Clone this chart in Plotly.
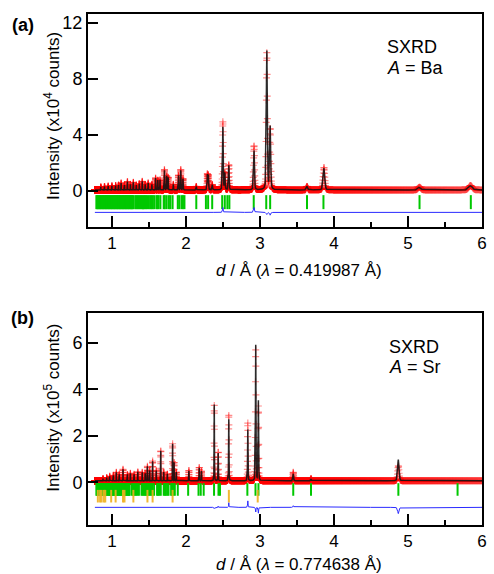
import numpy as np
import plotly.graph_objects as go

# ---------------- Panel (a): A = Ba, lambda = 0.419987 A (units x10^4 counts)
lam_a = 0.419987
peaks_a_d = [0.85, 0.90, 0.95, 1.00, 1.05, 1.09, 1.125, 1.17, 1.21, 1.25, 1.29, 1.33, 1.37, 1.41,
             1.45, 1.49, 1.54, 1.59, 1.62, 1.65, 1.71, 1.74, 1.76, 1.83, 1.90, 1.93, 1.96, 2.14,
             2.29, 2.303, 2.356, 2.499, 2.525, 2.579, 2.92, 3.093, 3.138, 3.636, 3.865, 5.155, 5.845]
peaks_a_calc = [0.22, 0.25, 0.28, 0.3, 0.32, 0.35, 0.5, 0.35, 0.6, 0.4, 0.55, 0.35, 0.45, 0.62,
                0.4, 0.5, 0.4, 0.85, 0.7, 0.72, 1.4, 1.0, 0.9, 0.4, 1.05, 1.4, 0.8, 0.25,
                1.1, 1.05, 0.38, 4.5, 1.2, 1.75, 2.8, 9.9, 4.5, 0.25, 1.55, 0.2, 0.3]
peaks_a_obs = [0.22, 0.25, 0.28, 0.3, 0.32, 0.35, 0.5, 0.35, 0.6, 0.4, 0.55, 0.35, 0.45, 0.62,
               0.4, 0.5, 0.4, 0.85, 0.7, 0.72, 1.45, 1.0, 0.9, 0.4, 1.05, 1.45, 0.8, 0.25,
               1.12, 1.05, 0.38, 4.85, 1.2, 1.8, 3.15, 9.75, 4.3, 0.25, 1.6, 0.2, 0.32]
bg_a = 0.08
diff_off_a = -1.52
tick_y_a = -0.79
refl_a = [0.79, 0.80, 0.81, 0.82, 0.83, 0.84, 0.85, 0.86, 0.87, 0.88, 0.89, 0.90, 0.91, 0.92,
          0.93, 0.94, 0.95, 0.96, 0.97, 0.98, 0.99, 1.00, 1.01, 1.02, 1.03, 1.04, 1.05, 1.06,
          1.07, 1.08, 1.09, 1.10, 1.11, 1.12, 1.13, 1.14, 1.15, 1.16, 1.17, 1.18, 1.19, 1.20,
          1.21, 1.22, 1.23, 1.24, 1.25, 1.26, 1.27, 1.28, 1.29, 1.315, 1.33, 1.345, 1.36, 1.375,
          1.39, 1.405, 1.42, 1.435, 1.45, 1.465, 1.48, 1.50, 1.52, 1.535, 1.55, 1.57, 1.60, 1.615,
          1.63, 1.655, 1.70, 1.715, 1.74, 1.77, 1.79, 1.82, 1.89, 1.91, 1.94, 1.96, 1.98, 2.14,
          2.27, 2.30, 2.355, 2.49, 2.525, 2.56, 2.587, 2.916, 3.085, 3.138, 3.636, 3.858, 5.156, 5.849]

# ---------------- Panel (b): A = Sr, lambda = 0.774638 A (units x10^5 counts)
lam_b = 0.774638
peaks_b_d = [0.88, 0.93, 0.97, 1.02, 1.06, 1.10, 1.15, 1.21, 1.25, 1.30, 1.35, 1.41, 1.45, 1.48,
             1.51, 1.55, 1.60, 1.66, 1.70, 1.75, 1.82, 1.84, 1.87, 2.04, 2.18, 2.21, 2.383, 2.436,
             2.579, 2.836, 2.943, 2.979, 3.45, 3.69, 4.87]
peaks_b_calc = [0.1, 0.14, 0.2, 0.24, 0.37, 0.28, 0.5, 0.28, 0.33, 0.28, 0.39, 0.37, 0.33, 0.63,
                0.45, 0.85, 0.45, 1.3, 0.38, 0.3, 1.6, 0.8, 0.38, 0.43, 0.56, 0.42, 3.3, 1.2,
                2.65, 2.22, 5.85, 3.45, 0.3, 0.08, 0.92]
peaks_b_obs = [0.1, 0.14, 0.2, 0.24, 0.37, 0.28, 0.5, 0.28, 0.33, 0.28, 0.39, 0.37, 0.33, 0.63,
               0.45, 0.85, 0.45, 1.3, 0.38, 0.3, 1.6, 0.8, 0.38, 0.45, 0.58, 0.42, 3.25, 1.25,
               2.85, 2.5, 5.65, 3.2, 0.37, 0.1, 0.65]
bg_b = 0.06
diff_off_b = -1.08
tick_y_b = -0.31
tick_y_b2 = -0.60
refl_b = [0.79, 0.80, 0.81, 0.82, 0.83, 0.84, 0.85, 0.86, 0.87, 0.88, 0.89, 0.90, 0.91, 0.92,
          0.93, 0.94, 0.95, 0.96, 0.97, 0.98, 0.99, 1.00, 1.01, 1.02, 1.03, 1.04, 1.05, 1.06,
          1.07, 1.08, 1.09, 1.10, 1.11, 1.12, 1.13, 1.14, 1.15, 1.16, 1.17, 1.18, 1.19, 1.20,
          1.21, 1.22, 1.23, 1.24, 1.27, 1.285, 1.30, 1.315, 1.33, 1.345, 1.365, 1.40, 1.415, 1.43,
          1.445, 1.46, 1.475, 1.49, 1.505, 1.52, 1.535, 1.55, 1.57, 1.61, 1.625, 1.64, 1.66, 1.70,
          1.715, 1.73, 1.75, 1.765, 1.80, 1.815, 1.83, 1.85, 1.89, 2.03, 2.17, 2.20, 2.24, 2.38,
          2.44, 2.46, 2.83, 2.94, 2.98, 3.45, 3.69, 4.87, 5.67]
refl_b2 = [0.81, 0.84, 0.86, 0.89, 0.91, 0.99, 1.05, 1.15, 1.17, 1.29, 1.48, 1.55, 1.82, 2.58, 2.97]

FWHM_THETA = 3.5e-4  # rad, instrumental width in theta


def profile(d, pos, heights, lam, bg):
    y = np.full_like(d, bg)
    for p, h in zip(pos, heights):
        w = 2.0 * p * p * FWHM_THETA / lam
        x = (d - p) / w
        g = np.exp(-4 * np.log(2) * x * x)
        lo = 1.0 / (1.0 + 4 * x * x)
        y += h * (0.65 * g + 0.35 * lo)
    return y


def d_grid(lam, tth_step):
    tth_lo = 2 * np.degrees(np.arcsin(lam / (2 * 6.0)))
    tth_hi = 2 * np.degrees(np.arcsin(lam / (2 * 0.77)))
    tth = np.arange(tth_lo, tth_hi, tth_step)
    return lam / (2 * np.sin(np.radians(tth / 2)))


# observed points (instrument step) and calculated curve (fine sampling)
d_a = d_grid(lam_a, 0.005)
d_a_fine = d_grid(lam_a, 0.002)
d_b = d_grid(lam_b, 0.007)
d_b_fine = d_grid(lam_b, 0.003)
obs_a = profile(d_a, peaks_a_d, peaks_a_obs, lam_a, bg_a)
calc_a_pts = profile(d_a, peaks_a_d, peaks_a_calc, lam_a, bg_a)
calc_a = profile(d_a_fine, peaks_a_d, peaks_a_calc, lam_a, bg_a)
obs_b = profile(d_b, peaks_b_d, peaks_b_obs, lam_b, bg_b)
calc_b_pts = profile(d_b, peaks_b_d, peaks_b_calc, lam_b, bg_b)
calc_b = profile(d_b_fine, peaks_b_d, peaks_b_calc, lam_b, bg_b)

FONT = "Liberation Sans, Arial, sans-serif"
RED = "rgba(255,0,0,0.45)"
GREEN = "#00c800"
ORANGE = "rgba(240,175,30,0.9)"
BLUE = "#2a2aff"

fig = go.Figure()


def add_panel(xa, ya, d, obs, dfine, calc, calc_pts, off, refl, ty, tsize, refl2=None, ty2=None):
    fig.add_trace(go.Scatter(x=d, y=obs, mode="markers", xaxis=xa, yaxis=ya,
                             marker=dict(symbol="cross-thin", size=5,
                                         line=dict(width=1.2, color=RED)),
                             showlegend=False, hoverinfo="skip"))
    fig.add_trace(go.Scatter(x=dfine, y=calc, mode="lines", xaxis=xa, yaxis=ya,
                             line=dict(color="rgba(20,20,20,0.9)", width=1.5),
                             showlegend=False, hoverinfo="skip"))
    fig.add_trace(go.Scatter(x=refl, y=[ty] * len(refl), mode="markers", xaxis=xa, yaxis=ya,
                             marker=dict(symbol="line-ns", size=tsize,
                                         line=dict(width=2, color=GREEN)),
                             showlegend=False, hoverinfo="skip"))
    if refl2 is not None:
        fig.add_trace(go.Scatter(x=refl2, y=[ty2] * len(refl2), mode="markers", xaxis=xa, yaxis=ya,
                                 marker=dict(symbol="line-ns", size=tsize,
                                             line=dict(width=2, color=ORANGE)),
                                 showlegend=False, hoverinfo="skip"))
    fig.add_trace(go.Scatter(x=d, y=obs - calc_pts + off, mode="lines", xaxis=xa, yaxis=ya,
                             line=dict(color=BLUE, width=1),
                             showlegend=False, hoverinfo="skip"))


add_panel("x", "y", d_a, obs_a, d_a_fine, calc_a, calc_a_pts, diff_off_a, refl_a, tick_y_a, 10)
add_panel("x2", "y2", d_b, obs_b, d_b_fine, calc_b, calc_b_pts, diff_off_b, refl_b, tick_y_b, 9,
          refl_b2, tick_y_b2)

xcommon = dict(range=[0.677, 6.0], showline=True, linecolor="black", linewidth=2, mirror=True,
               ticks="inside", ticklen=11, tickwidth=2, tickcolor="black",
               tickvals=[1, 2, 3, 4, 5, 6], showgrid=False, zeroline=False,
               tickfont=dict(family=FONT, size=17, color="black"),
               minor=dict(ticks="inside", ticklen=5, tickwidth=2, tickcolor="black",
                          tickvals=[1.5, 2.5, 3.5, 4.5, 5.5], showgrid=False))
ycommon = dict(showline=True, linecolor="black", linewidth=2, mirror=True,
               ticks="inside", ticklen=10, tickwidth=2, tickcolor="black",
               showgrid=False, zeroline=False,
               tickfont=dict(family=FONT, size=18, color="black"))

fig.update_layout(
    width=494, height=574,
    margin=dict(l=88, r=7, t=14, b=49),
    paper_bgcolor="white", plot_bgcolor="white",
    font=dict(family=FONT, size=17, color="black"),
    xaxis=dict(domain=[0, 1], anchor="y", **xcommon),
    yaxis=dict(domain=[0.583, 1], anchor="x", range=[-2.57, 12.64],
               tickvals=[0, 4, 8, 12], **ycommon),
    xaxis2=dict(domain=[0, 1], anchor="y2", **xcommon),
    yaxis2=dict(domain=[0, 0.415], anchor="x2", range=[-1.84, 7.29],
                tickvals=[0, 2, 4, 6], **ycommon),
)


def ann(text, x, y, size=17, xanchor="center", angle=0):
    fig.add_annotation(text=text, x=x, y=y, xref="paper", yref="paper", showarrow=False,
                       xanchor=xanchor, yanchor="middle", textangle=angle,
                       font=dict(family=FONT, size=size, color="black"))


ann("<b>(a)</b>", -0.165, 0.978, size=18)
ann("<b>(b)</b>", -0.165, 0.405, size=18)
ann("SXRD", 0.755, 0.935, size=18, xanchor="left")
ann("<i>A</i> = Ba", 0.755, 0.894, size=18, xanchor="left")
ann("SXRD", 0.76, 0.349, size=18, xanchor="left")
ann("<i>A</i> = Sr", 0.76, 0.310, size=18, xanchor="left")
ann("Intensity (x10<sup>4</sup> counts)", -0.092, 0.80, angle=-90)
ann("Intensity (x10<sup>5</sup> counts)", -0.092, 0.229, angle=-90)
ann("<i>d</i> / Å (<i>λ</i> = 0.419987 Å)", 0.535, 0.499)
ann("<i>d</i> / Å (<i>λ</i> = 0.774638 Å)", 0.535, -0.078)

fig.write_html("out.html")
